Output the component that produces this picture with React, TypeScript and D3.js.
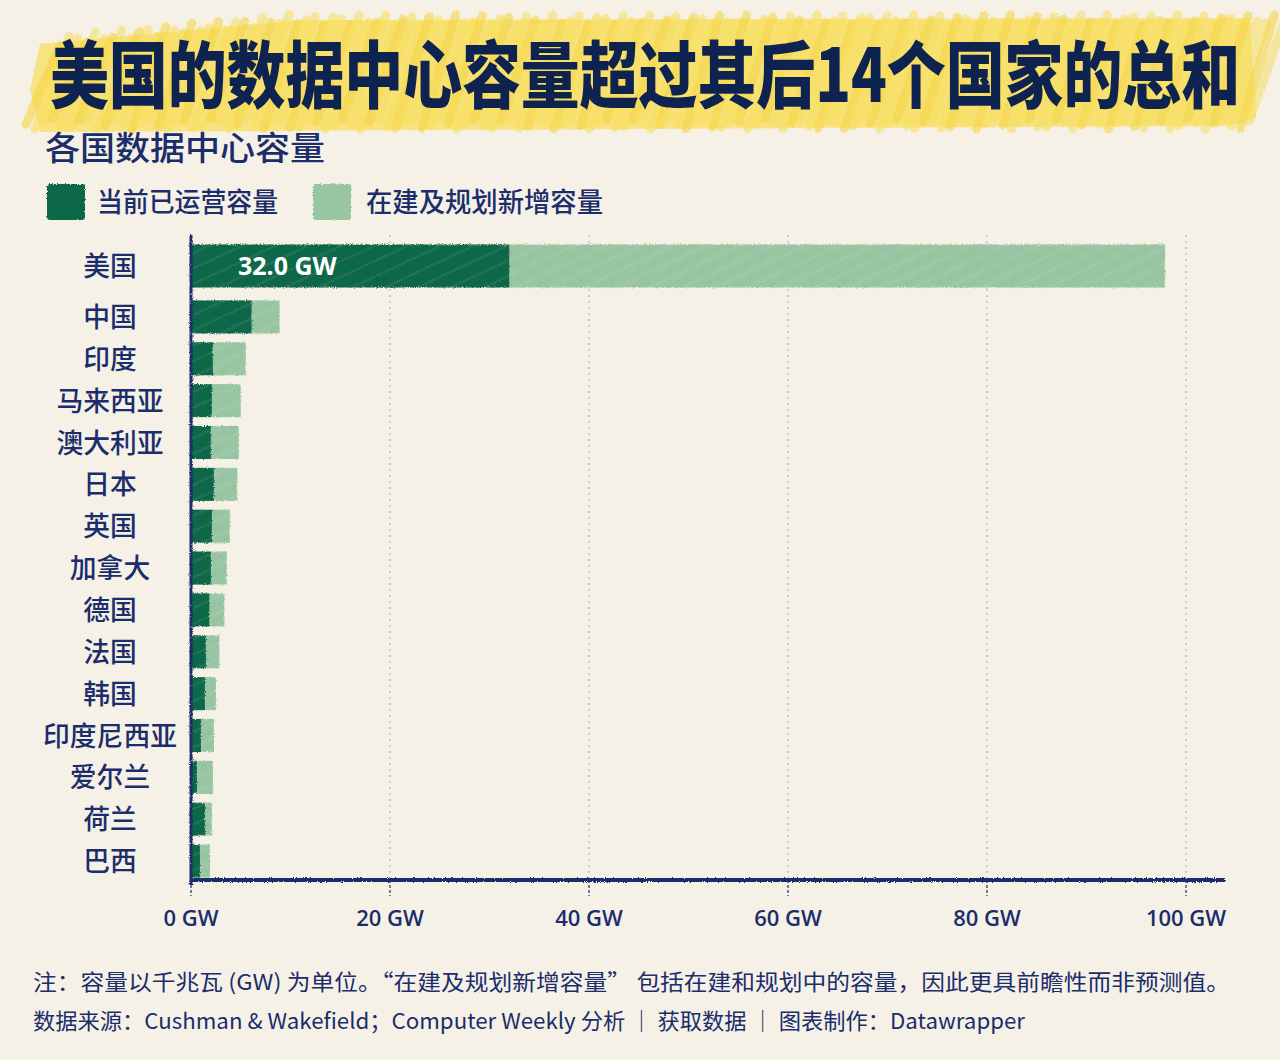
import React from "react";
import * as d3 from "d3";

const countries = ["美国", "中国", "印度", "马来西亚", "澳大利亚", "日本", "英国", "加拿大", "德国", "法国", "韩国", "印度尼西亚", "爱尔兰", "荷兰", "巴西"];
const operating = [32.0, 6.1, 2.2, 2.1, 2.0, 2.3, 2.1, 2.0, 1.85, 1.5, 1.4, 1.0, 0.6, 1.4, 0.9];
const pipeline = [65.9, 2.8, 3.3, 2.9, 2.8, 2.35, 1.8, 1.6, 1.5, 1.35, 1.1, 1.3, 1.6, 0.7, 1.0];
const xTicks = [0, 20, 40, 60, 80, 100];
const legendLabels = ["当前已运营容量", "在建及规划新增容量"];
const titleText = "美国的数据中心容量超过其后14个国家的总和";
const subtitleText = "各国数据中心容量";
const noteText = "注：容量以千兆瓦 (GW) 为单位。“在建及规划新增容量” 包括在建和规划中的容量，因此更具前瞻性而非预测值。";
const sourceText = "数据来源：Cushman & Wakefield；Computer Weekly 分析 ｜ 获取数据 ｜ 图表制作：Datawrapper";

const W = 1280, H = 1060;
const BG = "#f5f1e7";
const NAVY = "#1b2d6b";
const TITLE = "#0f2350";
const DARK = "#11684a";
const LIGHT = "#98c5a2";
const FONT = "'Noto Sans CJK SC', 'Noto Sans', sans-serif";

export default function App() {
  const x = d3.scaleLinear().domain([0, 100]).range([191, 1186]);
  const yTop = d3.scaleBand().domain([countries[0]]).range([241, 291]).paddingOuter(0.08);
  const yRest = d3.scaleBand().domain(countries.slice(1)).range([296, 882]).paddingInner(0.21).paddingOuter(0.105);
  const rowY = (c: string) => (c === countries[0] ? yTop(c)! : yRest(c)!);
  const rowH = (c: string) => (c === countries[0] ? yTop.bandwidth() : yRest.bandwidth());

  // highlighter strokes (decoration)
  const strokes: JSX.Element[] = [];
  for (let i = 0; i < 140; i++) {
    const sx = 26 + i * 8.8;
    const y1 = 124 + 5 * Math.sin(i * 1.7);
    const y2 = 20 + 5 * Math.cos(i * 2.3) + (sx < 250 ? (250 - sx) * 0.09 : 0);
    strokes.push(
      <line key={i} x1={sx} y1={y1} x2={sx + 34} y2={y2} stroke={i % 3 === 0 ? "#f3d33c" : "#f8df5c"} strokeWidth={9} strokeLinecap="round" opacity={0.55} />
    );
  }

  return (
    <svg width={W} height={H} style={{ position: "absolute", left: 0, top: 0, display: "block" }} fontFamily={FONT}>
      <defs>
        <filter id="rough" filterUnits="userSpaceOnUse" x="0" y="0" width={W} height={H}>
          <feTurbulence type="fractalNoise" baseFrequency="0.9" numOctaves="2" seed="3" result="n" />
          <feDisplacementMap in="SourceGraphic" in2="n" scale="3" xChannelSelector="R" yChannelSelector="G" />
        </filter>
        <pattern id="hatch" width="14" height="14" patternUnits="userSpaceOnUse" patternTransform="rotate(-25)">
          <line x1="0" y1="3" x2="14" y2="3" stroke="#ffffff" strokeWidth="0.8" opacity="0.18" />
          <line x1="0" y1="10" x2="9" y2="10" stroke="#000000" strokeWidth="0.6" opacity="0.06" />
        </pattern>
      </defs>
      <rect width={W} height={H} fill={BG} />

      {/* Title highlight */}
      <g filter="url(#rough)">
        <path d="M40,44 L300,20 L1250,18 L1256,118 L1230,126 L40,132 L30,90 Z" fill="#f8de5a" opacity={0.72} />
        {strokes}
      </g>
      <text x={50} y={0} fontSize={60} fontWeight={900} fill={TITLE} textLength={1190} lengthAdjust="spacingAndGlyphs"
        transform="translate(0,102) scale(1,1.22)">{titleText}</text>

      <text x={45} y={160} fontSize={33} fontWeight={500} fill={NAVY} textLength={280} lengthAdjust="spacingAndGlyphs">{subtitleText}</text>

      {/* Legend */}
      <rect x={47} y={184} width={38} height={36} rx={3} fill={DARK} filter="url(#rough)" />
      <text x={97} y={212} fontSize={27} fontWeight={500} fill={NAVY} textLength={181} lengthAdjust="spacingAndGlyphs">{legendLabels[0]}</text>
      <rect x={313} y={184} width={38} height={36} rx={3} fill={LIGHT} filter="url(#rough)" />
      <text x={366} y={212} fontSize={27} fontWeight={500} fill={NAVY} textLength={237} lengthAdjust="spacingAndGlyphs">{legendLabels[1]}</text>

      {/* Gridlines */}
      {xTicks.slice(1).map((t) => (
        <line key={t} x1={x(t)} x2={x(t)} y1={235} y2={880} stroke="#b3b5c0" strokeWidth={1.2} strokeDasharray="2,4" />
      ))}

      {/* Bars */}
      {countries.map((c, i) => (
        <g key={c} filter="url(#rough)">
          <rect x={x(operating[i])} y={rowY(c)} width={x(operating[i] + pipeline[i]) - x(operating[i])} height={rowH(c)} fill={LIGHT} />
          <rect x={x(operating[i])} y={rowY(c)} width={x(operating[i] + pipeline[i]) - x(operating[i])} height={rowH(c)} fill="url(#hatch)" />
          <rect x={x(0)} y={rowY(c)} width={x(operating[i]) - x(0)} height={rowH(c)} fill={DARK} />
          <rect x={x(0)} y={rowY(c)} width={x(operating[i]) - x(0)} height={rowH(c)} fill="url(#hatch)" />
        </g>
      ))}
      <text x={x(0) + 47} y={rowY(countries[0]) + rowH(countries[0]) / 2 + 9} fontSize={25} fontWeight={700} fill="#ffffff"
        fontFamily="'Open Sans', 'Noto Sans', sans-serif">{`${operating[0].toFixed(1)} GW`}</text>

      {/* Country labels */}
      {countries.map((c) => (
        <text key={c} x={110} y={rowY(c) + rowH(c) / 2 + 10} fontSize={27} fontWeight={500} fill={NAVY} textAnchor="middle"
          textLength={c.length * 26.8} lengthAdjust="spacingAndGlyphs">{c}</text>
      ))}

      {/* Axes */}
      <g filter="url(#rough)">
        <rect x={x(0) - 1.5} y={235} width={3} height={650} fill={NAVY} />
        <rect x={x(0)} y={878} width={1225 - x(0)} height={4} fill={NAVY} />
      </g>
      {xTicks.map((t) => (
        <g key={t}>
          <line x1={x(t)} x2={x(t)} y1={880} y2={896} stroke={NAVY} strokeWidth={1.2} strokeDasharray="3,2" />
          <text x={x(t)} y={926} fontSize={22} fontWeight={600} fill={NAVY} textAnchor="middle"
            fontFamily="'Open Sans', 'Noto Sans', sans-serif">{`${t} GW`}</text>
        </g>
      ))}

      {/* Notes */}
      <text x={33} y={990} fontSize={22} fill={NAVY} textLength={1197} lengthAdjust="spacingAndGlyphs">{noteText}</text>
      <text x={33} y={1029} fontSize={22} fill={NAVY} textLength={992} lengthAdjust="spacingAndGlyphs">{sourceText}</text>
    </svg>
  );
}
